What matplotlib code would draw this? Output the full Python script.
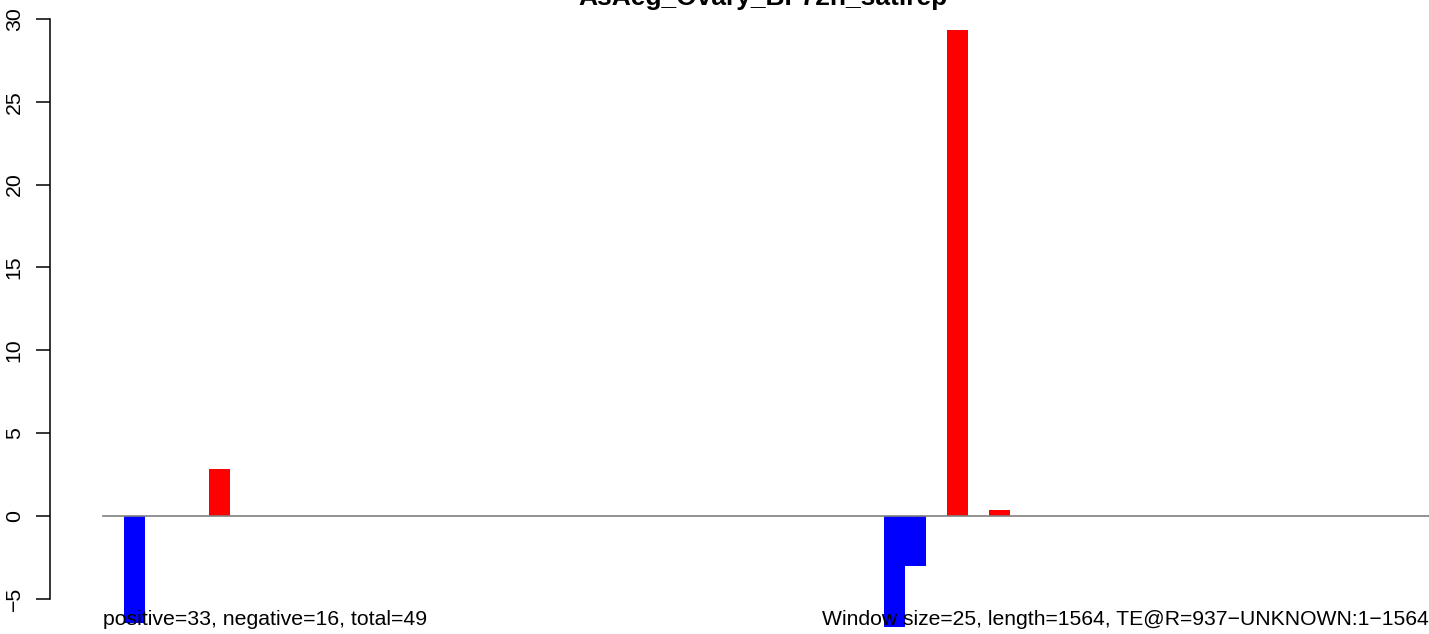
#!/usr/bin/env python

"""
Bar plot of the signed counts per window along one repeat element.
Positive windows are red, negative windows are blue.
"""

import matplotlib
matplotlib.use("Agg")
import matplotlib.pyplot as plt


# Data
title = "AsAeg_Ovary_BF72h_satirep"
window_size = 25
te_length = 1564
n_windows = 63
pos_windows = [5, 40, 42]
pos_values = [2.85, 29.3, 0.35]
neg_windows = [1, 37, 38]
neg_values = [-6.45, -6.7, -3.0]
y_ticks = [-5, 0, 5, 10, 15, 20, 25, 30]
left_note = "positive=33, negative=16, total=49"
right_note = "Window size=25, length=1564, TE@R=937\u2212UNKNOWN:1\u22121564"


def main():
    plt.rcParams['font.family'] = ['Liberation Sans', 'DejaVu Sans']
    fs = 15.3

    fig = plt.figure(figsize=(14.29, 6.34), dpi=100)
    ax = fig.add_axes([0, 0, 1, 1])
    ax.patch.set_alpha(0)

    # pixel layout (the original is cropped)
    px_unit_x = 21.1
    px_unit_y = 16.57
    ax.set_xlim(-103 / px_unit_x, (1429 - 103) / px_unit_x)
    ax.set_ylim(-(634 - 516) / px_unit_y, 516 / px_unit_y)

    ax.bar(pos_windows, pos_values, width=1, align='edge', color='red', linewidth=0)
    ax.bar(neg_windows, neg_values, width=1, align='edge', color='blue', linewidth=0)
    ax.plot([0, n_windows], [0, 0], color='#808080', lw=1.2, zorder=3)

    # y axis like R: line only between first and last tick
    x_end = te_length / window_size
    for side in ['top', 'right', 'bottom']:
        ax.spines[side].set_visible(False)
    ax.spines['left'].set_position(('data', -0.04 * x_end))
    ax.spines['left'].set_bounds(y_ticks[0], y_ticks[-1])
    ax.spines['left'].set_linewidth(1.1)
    ax.set_xticks([])
    ax.set_yticks(y_ticks)
    ax.set_yticklabels([str(t).replace('-', '\u2212') for t in y_ticks], fontsize=fs)
    ax.tick_params(axis='y', direction='out', length=10, width=1.1, pad=9, labelrotation=90)
    for lbl in ax.get_yticklabels():
        lbl.set_va('center')

    ax.text(x_end / 2, (516 - 5) / px_unit_y, title, ha='center', va='baseline',
            fontsize=19, fontweight='bold')
    ax.text(0, -(625 - 516) / px_unit_y, left_note, ha='left', va='baseline', fontsize=fs)
    ax.text(n_windows - 0.15, -(625 - 516) / px_unit_y, right_note, ha='right',
            va='baseline', fontsize=15.2)

    fig.savefig("out.png", dpi=100)


if __name__ == '__main__':
    main()
